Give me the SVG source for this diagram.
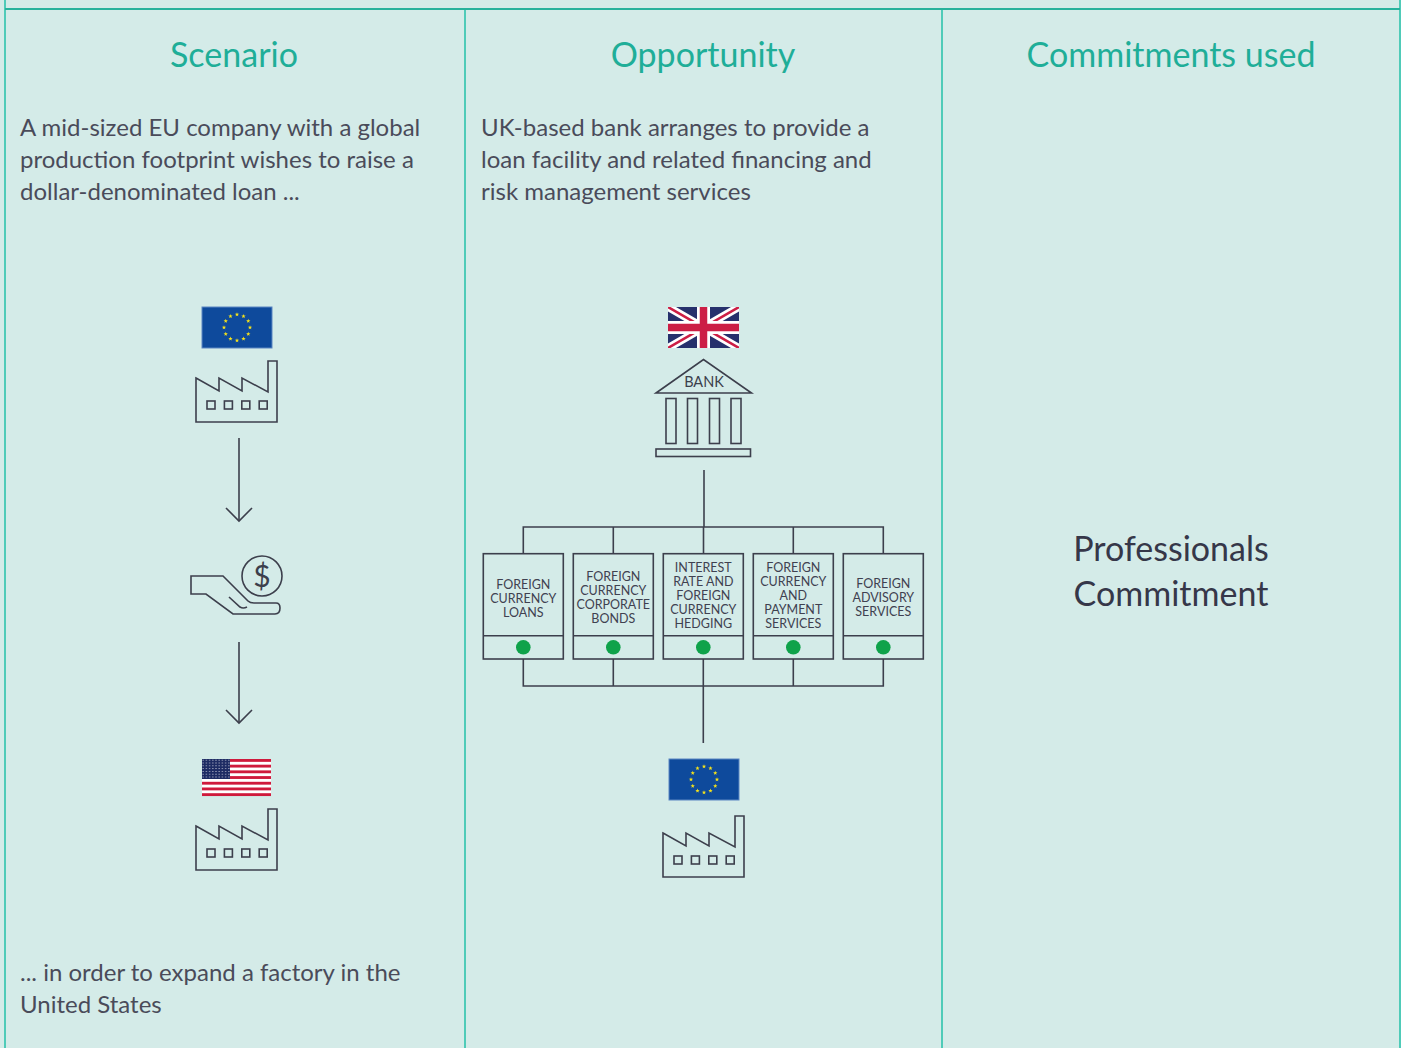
<svg xmlns="http://www.w3.org/2000/svg" width="1407" height="1048" viewBox="0 0 1407 1048">
<style>
.head{font-family:Lato,"Open Sans","Liberation Sans",sans-serif;font-size:34px;fill:#1fae98;text-anchor:middle}
.body{font-family:Lato,"Open Sans","Liberation Sans",sans-serif;font-size:24px;fill:#4a4b5a}
.big{font-family:Lato,"Open Sans","Liberation Sans",sans-serif;font-size:34px;fill:#363749;text-anchor:middle}
.box{font-family:Lato,"Open Sans","Liberation Sans",sans-serif;font-size:12.5px;fill:#3f4150;text-anchor:middle}
.ln{fill:none;stroke:#3c3f4c;stroke-width:1.6}
.bx{fill:none;stroke:#3c3f4c;stroke-width:1.6}
.dot{fill:#0fa24a}
.col{stroke:#4fcbb8;stroke-width:2}
</style>
<defs>
<polygon id="star" points="0,-2.3 0.56,-0.77 2.19,-0.71 0.9,0.29 1.35,1.86 0,0.95 -1.35,1.86 -0.9,0.29 -2.19,-0.71 -0.56,-0.77" fill="#f5e21a"/>
<g id="euflag">
<rect x="0" y="0" width="70" height="41" fill="#0e4a9c" stroke="#5b86c2" stroke-width="1"/>
<g transform="translate(35,20.5)">
<use href="#star" x="0" y="-13"/><use href="#star" x="6.5" y="-11.26"/><use href="#star" x="11.26" y="-6.5"/><use href="#star" x="13" y="0"/><use href="#star" x="11.26" y="6.5"/><use href="#star" x="6.5" y="11.26"/><use href="#star" x="0" y="13"/><use href="#star" x="-6.5" y="11.26"/><use href="#star" x="-11.26" y="6.5"/><use href="#star" x="-13" y="0"/><use href="#star" x="-11.26" y="-6.5"/><use href="#star" x="-6.5" y="-11.26"/>
</g>
</g>
<g id="factory">
<path class="ln" d="M0,17 L23,30 L23,17 L46,30 L46,17 L72,31 L72,0 L81,0 L81,61 L0,61 Z"/>
<rect class="ln" x="11" y="40" width="8" height="8"/>
<rect class="ln" x="28.4" y="40" width="8" height="8"/>
<rect class="ln" x="45.8" y="40" width="8" height="8"/>
<rect class="ln" x="63.2" y="40" width="8" height="8"/>
</g>
<clipPath id="ukclip"><rect x="0" y="0" width="71" height="41"/></clipPath>
<pattern id="usstars" x="0" y="0" width="3.2" height="2.8" patternUnits="userSpaceOnUse">
<circle cx="1.6" cy="1.4" r="0.55" fill="#ffffff"/>
</pattern>
<marker id="chev" viewBox="0 0 28 16" refX="14" refY="14" markerWidth="28" markerHeight="16" markerUnits="userSpaceOnUse" orient="0">
<path d="M1,1 L14,14 L27,1" fill="none" stroke="#3c3f4c" stroke-width="1.6"/>
</marker>
</defs>

<rect x="0" y="0" width="1407" height="1048" fill="#d4ebe8"/>
<rect x="1401" y="0" width="6" height="1048" fill="#ffffff"/>

<g id="frame">
<line class="col" x1="5" y1="0" x2="5" y2="1048"/>
<line class="col" x1="1400" y1="0" x2="1400" y2="1048"/>
<line class="col" x1="465" y1="9" x2="465" y2="1048"/>
<line class="col" x1="942" y1="9" x2="942" y2="1048"/>
<line x1="5" y1="9" x2="1400" y2="9" stroke="#27b29c" stroke-width="2"/>
</g>

<g id="headings">
<text class="head" x="234" y="67">Scenario</text>
<text class="head" x="703" y="67">Opportunity</text>
<text class="head" x="1171" y="67">Commitments used</text>
</g>

<g id="scenario-text">
<text class="body" x="20" y="136">A mid-sized EU company with a global</text>
<text class="body" x="20" y="168">production footprint wishes to raise a</text>
<text class="body" x="20" y="200">dollar-denominated loan ...</text>
<text class="body" x="20" y="981">... in order to expand a factory in the</text>
<text class="body" x="20" y="1013">United States</text>
</g>

<g id="opportunity-text">
<text class="body" x="481" y="136">UK-based bank arranges to provide a</text>
<text class="body" x="481" y="168">loan facility and related financing and</text>
<text class="body" x="481" y="200">risk management services</text>
</g>

<g id="commitment">
<text class="big" x="1171" y="561">Professionals</text>
<text class="big" x="1171" y="606">Commitment</text>
</g>

<g id="eu-company">
<use href="#euflag" x="202" y="307"/>
<use href="#factory" transform="translate(196,361)"/>
</g>

<g id="loan">
<circle class="ln" cx="262" cy="576" r="20"/>
<text x="262" y="587" font-family="Lato,'Open Sans','Liberation Sans',sans-serif" font-size="30" fill="#3c3f4c" text-anchor="middle">$</text>
<path class="ln" d="M191,576 L223,576 L248,601 Q250,603 254,603 L276,603 Q280,603 280,608 Q280,614 275,614 L233,614 L206,594 L191,594 Z"/>
<path class="ln" d="M229,597 L240,607 Q243,609 247,607"/>
</g>

<g id="us-factory">
<rect x="202" y="759" width="69" height="37" fill="#ffffff"/>
<g fill="#cf1a3c">
<rect x="202" y="759" width="69" height="2.85"/>
<rect x="202" y="764.7" width="69" height="2.85"/>
<rect x="202" y="770.4" width="69" height="2.85"/>
<rect x="202" y="776.1" width="69" height="2.85"/>
<rect x="202" y="781.8" width="69" height="2.85"/>
<rect x="202" y="787.5" width="69" height="2.85"/>
<rect x="202" y="793.2" width="69" height="2.85"/>
</g>
<rect x="202" y="759" width="28" height="20" fill="#1d2b63"/>
<rect x="202" y="759" width="28" height="20" fill="url(#usstars)"/>
<use href="#factory" transform="translate(196,809)"/>
</g>

<g id="uk-bank">
<g transform="translate(668,307)">
<g clip-path="url(#ukclip)">
<rect x="0" y="0" width="71" height="41" fill="#26306c"/>
<path d="M0,0 L71,41 M71,0 L0,41" stroke="#ffffff" stroke-width="8"/>
<path d="M0,0 L71,41 M71,0 L0,41" stroke="#cc1e45" stroke-width="2.5"/>
<path d="M35.5,0 V41 M0,20.5 H71" stroke="#ffffff" stroke-width="13"/>
<path d="M35.5,0 V41 M0,20.5 H71" stroke="#cc1e45" stroke-width="7.5"/>
</g>
</g>
<path class="ln" d="M656,393 L703.5,359.5 L751.5,393 Z"/>
<text x="704" y="387" font-family="Lato,'Open Sans','Liberation Sans',sans-serif" font-size="14.5" fill="#3c3f4c" text-anchor="middle">BANK</text>
<rect class="ln" x="666" y="398.5" width="10" height="45"/>
<rect class="ln" x="687.5" y="398.5" width="10" height="45"/>
<rect class="ln" x="709.5" y="398.5" width="10" height="45"/>
<rect class="ln" x="731" y="398.5" width="10" height="45"/>
<rect class="ln" x="656" y="449" width="94.5" height="7.5"/>
</g>

<g id="connectors">
<line class="ln" x1="239" y1="438" x2="239" y2="521" marker-end="url(#chev)"/>
<line class="ln" x1="239" y1="642" x2="239" y2="723" marker-end="url(#chev)"/>
<line class="ln" x1="704" y1="470" x2="704" y2="527"/>
<path class="ln" d="M523.3,553.7 V527 H883.3 V553.7 M613.3,527 V553.7 M793.3,527 V553.7 M703.5,527 V553.7"/>
<path class="ln" d="M523.3,659 V686 H883.3 V659 M613.3,686 V659 M793.3,686 V659 M703.3,659 V743"/>
</g>

<g id="box-loans">
<rect class="bx" x="483.3" y="553.7" width="80" height="105.3"/>
<line class="bx" x1="483.3" y1="635.7" x2="563.3" y2="635.7"/>
<circle class="dot" cx="523.3" cy="647.3" r="7.3"/>
<text class="box" x="523.3" y="589"><tspan x="523.3">FOREIGN</tspan><tspan x="523.3" dy="14">CURRENCY</tspan><tspan x="523.3" dy="14">LOANS</tspan></text>
</g>
<g id="box-bonds">
<rect class="bx" x="573.3" y="553.7" width="80" height="105.3"/>
<line class="bx" x1="573.3" y1="635.7" x2="653.3" y2="635.7"/>
<circle class="dot" cx="613.3" cy="647.3" r="7.3"/>
<text class="box" x="613.3" y="581"><tspan x="613.3">FOREIGN</tspan><tspan x="613.3" dy="14">CURRENCY</tspan><tspan x="613.3" dy="14">CORPORATE</tspan><tspan x="613.3" dy="14">BONDS</tspan></text>
</g>
<g id="box-hedging">
<rect class="bx" x="663.3" y="553.7" width="80" height="105.3"/>
<line class="bx" x1="663.3" y1="635.7" x2="743.3" y2="635.7"/>
<circle class="dot" cx="703.3" cy="647.3" r="7.3"/>
<text class="box" x="703.3" y="572"><tspan x="703.3">INTEREST</tspan><tspan x="703.3" dy="14">RATE AND</tspan><tspan x="703.3" dy="14">FOREIGN</tspan><tspan x="703.3" dy="14">CURRENCY</tspan><tspan x="703.3" dy="14">HEDGING</tspan></text>
</g>
<g id="box-payment">
<rect class="bx" x="753.3" y="553.7" width="80" height="105.3"/>
<line class="bx" x1="753.3" y1="635.7" x2="833.3" y2="635.7"/>
<circle class="dot" cx="793.3" cy="647.3" r="7.3"/>
<text class="box" x="793.3" y="572"><tspan x="793.3">FOREIGN</tspan><tspan x="793.3" dy="14">CURRENCY</tspan><tspan x="793.3" dy="14">AND</tspan><tspan x="793.3" dy="14">PAYMENT</tspan><tspan x="793.3" dy="14">SERVICES</tspan></text>
</g>
<g id="box-advisory">
<rect class="bx" x="843.3" y="553.7" width="80" height="105.3"/>
<line class="bx" x1="843.3" y1="635.7" x2="923.3" y2="635.7"/>
<circle class="dot" cx="883.3" cy="647.3" r="7.3"/>
<text class="box" x="883.3" y="588"><tspan x="883.3">FOREIGN</tspan><tspan x="883.3" dy="14">ADVISORY</tspan><tspan x="883.3" dy="14">SERVICES</tspan></text>
</g>

<g id="eu-client">
<use href="#euflag" x="669" y="759"/>
<use href="#factory" transform="translate(663,816)"/>
</g>
</svg>
